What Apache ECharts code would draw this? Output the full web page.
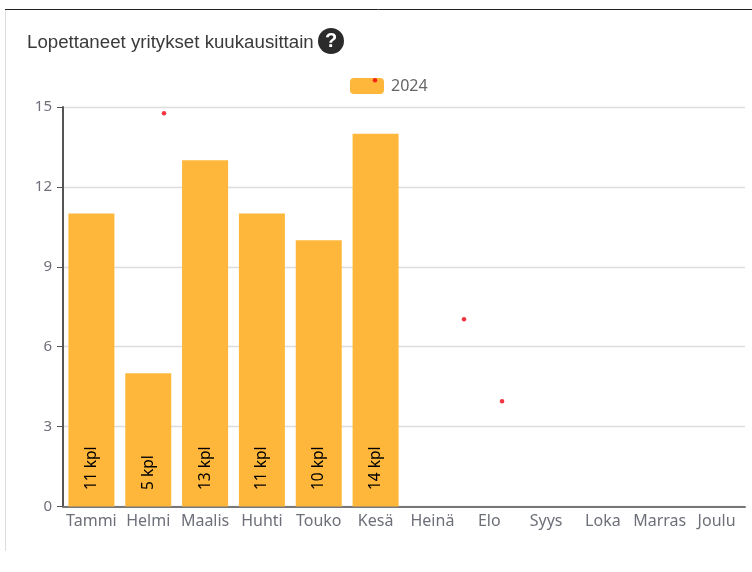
<!DOCTYPE html>
<html><head><meta charset="utf-8">
<style>html,body{margin:0;padding:0;background:#fff}#c{width:752px;height:572px}</style>
<script src="https://cdn.jsdelivr.net/npm/echarts@6/dist/echarts.min.js"></script>
</head><body><div id="c"></div>
<script>
const months = ['Tammi','Helmi','Maalis','Huhti','Touko','Kesä','Heinä','Elo','Syys','Loka','Marras','Joulu'];
const values2024 = [11,5,13,11,10,14,null,null,null,null,null,null];
const yTicks = {min:0,max:15,interval:3};
const speckX = [1.777,5.49,7.056,7.725];
const speckY = [14.77,16.0,7.03,3.95];
const titleText = 'Lopettaneet yritykset kuukausittain';
const legendName = '2024';
const unit = ' kpl';

const chart = echarts.init(document.getElementById('c'),null,{renderer:'canvas'});
const labelFont = '"Noto Sans","Open Sans",sans-serif';
chart.setOption({
  animation:false,
  backgroundColor:'#fff',
  title:{text:titleText,left:27,top:33,padding:0,textStyle:{fontFamily:'"Liberation Sans",Arial,sans-serif',fontSize:18.7,fontWeight:'normal',color:'#3a3a3a'}},
  legend:{top:78,left:350,padding:0,itemWidth:34,itemHeight:16,itemGap:7,data:[legendName],
    textStyle:{fontFamily:labelFont,fontSize:16,color:'#666',padding:[2,0,0,2]},
    itemStyle:{borderRadius:4}},
  grid:{left:63,right:7,top:107,bottom:65.5,containLabel:false},
  xAxis:[
    {type:'category',data:months,axisTick:{alignWithLabel:true,lineStyle:{color:'#6e7079'},length:5},
     axisLine:{lineStyle:{color:'#777',width:2}},
     axisLabel:{interval:0,fontFamily:labelFont,fontSize:16,color:'#6e7079',margin:7}},
    {type:'value',min:0,max:12,show:false,position:'bottom'}
  ],
  yAxis:{type:'value',min:yTicks.min,max:yTicks.max,interval:yTicks.interval,
    axisLine:{show:true,lineStyle:{color:'#555',width:2}},
    axisTick:{show:true,length:6,lineStyle:{color:'#555'}},
    axisLabel:{fontFamily:labelFont,fontSize:15,color:'#6e7079',margin:11},
    splitLine:{lineStyle:{color:'#dcdcdc',width:1.3}}},
  series:[
    {name:legendName,type:'bar',data:values2024,barWidth:46,
     itemStyle:{color:'#ffb73b'},
     label:{show:true,position:'insideBottom',rotate:90,distance:19,align:'left',verticalAlign:'middle',offset:[-2.5,0],
       fontFamily:labelFont,fontSize:15.5,color:'#000',
       formatter:p=>p.value+unit}},
    {type:'scatter',xAxisIndex:1,yAxisIndex:0,clip:false,symbolSize:4.5,silent:true,z:10,legendHoverLink:false,
     itemStyle:{color:'#f00010'},data:speckX.map((x,i)=>[x,speckY[i]])}
  ],
  graphic:[
    {type:'line',shape:{x1:5,y1:9.5,x2:752,y2:9.5},style:{stroke:'#222',lineWidth:1}},
    {type:'line',shape:{x1:5.5,y1:10,x2:5.5,y2:551},style:{stroke:'#ddd',lineWidth:1}},
    {type:'circle',shape:{cx:331,cy:41,r:13},style:{fill:'#2b2b2b'}},
    {type:'text',x:331,y:41,style:{text:'?',fill:'#fff',font:'bold 20px "Liberation Sans",Arial,sans-serif',align:'center',verticalAlign:'middle'}}
  ]
});
</script></body></html>
